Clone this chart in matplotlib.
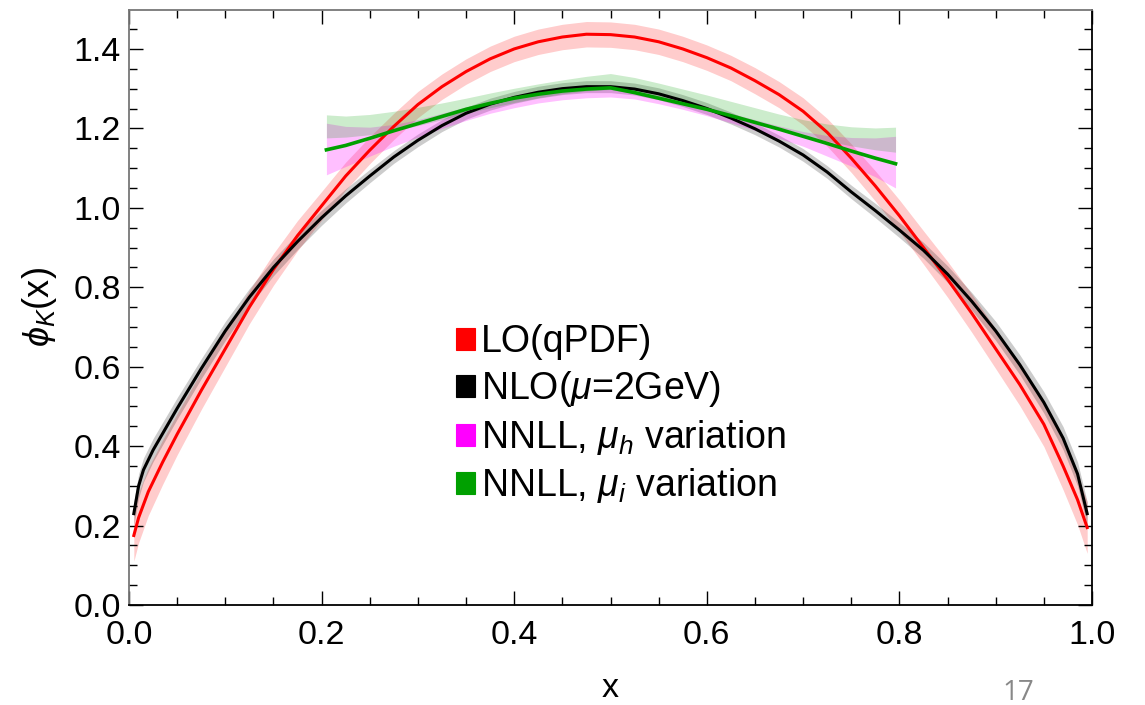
import numpy as np
import matplotlib
matplotlib.use("Agg")
import matplotlib.pyplot as plt
from matplotlib.patches import Patch
from matplotlib.ticker import MultipleLocator

plt.rcParams['font.family'] = ['Liberation Sans', 'DejaVu Sans']
plt.rcParams['mathtext.fontset'] = 'custom'
plt.rcParams['mathtext.rm'] = 'Liberation Sans'
plt.rcParams['mathtext.it'] = 'Liberation Sans:italic'
plt.rcParams['mathtext.fallback'] = 'stixsans'

# LO (qPDF) - red
x_lo = [0.005, 0.01, 0.02, 0.035, 0.05, 0.075, 0.10, 0.125, 0.15, 0.175,
        0.20, 0.225, 0.25, 0.275, 0.30, 0.325, 0.35, 0.375, 0.40, 0.425,
        0.45, 0.475, 0.50, 0.525, 0.55, 0.575, 0.60, 0.625, 0.65, 0.675,
        0.70, 0.725, 0.75, 0.775, 0.80, 0.825, 0.85, 0.875, 0.90, 0.925,
        0.95, 0.97, 0.985, 0.995]
y_lo = [0.175, 0.22, 0.285, 0.36, 0.43, 0.54, 0.645, 0.75, 0.845, 0.93,
        1.005, 1.08, 1.145, 1.205, 1.26, 1.305, 1.343, 1.375, 1.40, 1.418,
        1.43, 1.437, 1.436, 1.43, 1.418, 1.40, 1.378, 1.352, 1.32, 1.285,
        1.243, 1.19, 1.125, 1.055, 0.98, 0.90, 0.82, 0.735, 0.645, 0.555,
        0.455, 0.35, 0.265, 0.195]
e_lo = [0.065, 0.063, 0.06, 0.056, 0.052, 0.048, 0.045, 0.042, 0.04, 0.038,
        0.036, 0.035, 0.034, 0.033, 0.033, 0.032, 0.032, 0.032, 0.032, 0.032,
        0.032, 0.032, 0.032, 0.032, 0.032, 0.032, 0.032, 0.032, 0.033, 0.033,
        0.034, 0.035, 0.036, 0.038, 0.04, 0.042, 0.045, 0.048, 0.05, 0.053,
        0.056, 0.06, 0.063, 0.065]

# NLO (mu=2GeV) - black
x_nlo = [0.005, 0.01, 0.015, 0.025, 0.05, 0.075, 0.10, 0.125, 0.15, 0.175,
         0.20, 0.225, 0.25, 0.275, 0.30, 0.325, 0.35, 0.375, 0.40, 0.425,
         0.45, 0.475, 0.50, 0.525, 0.55, 0.575, 0.60, 0.625, 0.65, 0.675,
         0.70, 0.725, 0.75, 0.775, 0.80, 0.825, 0.85, 0.875, 0.90, 0.925,
         0.95, 0.97, 0.985, 0.995]
y_nlo = [0.23, 0.30, 0.34, 0.39, 0.495, 0.595, 0.69, 0.775, 0.85, 0.915,
         0.975, 1.03, 1.08, 1.128, 1.17, 1.207, 1.238, 1.261, 1.278, 1.291,
         1.300, 1.305, 1.305, 1.299, 1.287, 1.27, 1.25, 1.226, 1.199, 1.168,
         1.133, 1.09, 1.04, 0.993, 0.944, 0.893, 0.833, 0.765, 0.69, 0.605,
         0.51, 0.42, 0.33, 0.23]
e_nlo = [0.03, 0.03, 0.03, 0.029, 0.027, 0.025, 0.024, 0.022, 0.021, 0.02,
         0.019, 0.018, 0.017, 0.016, 0.016, 0.015, 0.015, 0.015, 0.015, 0.015,
         0.015, 0.015, 0.015, 0.015, 0.015, 0.015, 0.015, 0.015, 0.015, 0.015,
         0.016, 0.016, 0.017, 0.018, 0.019, 0.02, 0.021, 0.022, 0.024, 0.025,
         0.027, 0.029, 0.03, 0.03]

# NNLL central line and scale variation bands
x_nnll = [0.205, 0.225, 0.25, 0.275, 0.30, 0.325, 0.35, 0.375, 0.40, 0.425,
          0.45, 0.475, 0.50, 0.525, 0.55, 0.575, 0.60, 0.625, 0.65, 0.675,
          0.70, 0.725, 0.75, 0.775, 0.796]
y_nnll = [1.146, 1.157, 1.175, 1.194, 1.212, 1.230, 1.248, 1.263, 1.276, 1.286,
          1.294, 1.299, 1.302, 1.290, 1.276, 1.262, 1.248, 1.232, 1.215, 1.198,
          1.180, 1.162, 1.143, 1.125, 1.111]
muh_hi = [1.213, 1.205, 1.203, 1.21, 1.222, 1.238, 1.254, 1.268, 1.28, 1.29,
          1.297, 1.301, 1.303, 1.295, 1.282, 1.268, 1.254, 1.238, 1.222, 1.206,
          1.192, 1.182, 1.177, 1.176, 1.18]
muh_lo = [1.083, 1.104, 1.13, 1.155, 1.178, 1.20, 1.22, 1.238, 1.252, 1.264,
          1.272, 1.277, 1.279, 1.274, 1.262, 1.248, 1.232, 1.214, 1.195, 1.175,
          1.155, 1.13, 1.105, 1.078, 1.05]
mui_hi = [1.234, 1.231, 1.235, 1.243, 1.253, 1.264, 1.276, 1.289, 1.301, 1.312,
          1.322, 1.331, 1.338, 1.328, 1.314, 1.299, 1.284, 1.268, 1.252, 1.236,
          1.222, 1.211, 1.204, 1.201, 1.203]
mui_lo = [1.176, 1.178, 1.184, 1.194, 1.207, 1.222, 1.238, 1.252, 1.265, 1.277,
          1.287, 1.294, 1.298, 1.288, 1.275, 1.26, 1.245, 1.23, 1.214, 1.198,
          1.182, 1.168, 1.156, 1.146, 1.14]

labels = ["LO(qPDF)", r"NLO($\mu$=2GeV)", r"NNLL, $\mu_h$ variation", r"NNLL, $\mu_i$ variation"]
RED = "#ff0000"
MAG = "#ff00ff"
GRN = "#00a000"

fig = plt.figure(figsize=(11.45, 7.05), dpi=100)
ax = fig.add_axes([129 / 1145, 1 - 605 / 705, 963 / 1145, 595 / 705])

x_lo, y_lo, e_lo = map(np.array, (x_lo, y_lo, e_lo))
x_nlo, y_nlo, e_nlo = map(np.array, (x_nlo, y_nlo, e_nlo))

ax.fill_between(x_lo, y_lo - e_lo, y_lo + e_lo, color=RED, alpha=0.2, lw=0)
ax.plot(x_lo, y_lo, color=RED, lw=2.2)
ax.fill_between(x_nlo, y_nlo - e_nlo, y_nlo + e_nlo, color="black", alpha=0.2, lw=0)
ax.plot(x_nlo, y_nlo, color="black", lw=2.2)
ax.fill_between(x_nnll, muh_lo, muh_hi, color=MAG, alpha=0.25, lw=0)
ax.fill_between(x_nnll, mui_lo, mui_hi, color=GRN, alpha=0.2, lw=0)
ax.plot(x_nnll, y_nnll, color=GRN, lw=2.6)

ax.set_xlim(0, 1)
ax.set_ylim(0, 1.498)
ax.xaxis.set_major_locator(MultipleLocator(0.2))
ax.xaxis.set_minor_locator(MultipleLocator(0.05))
ax.yaxis.set_major_locator(MultipleLocator(0.2))
ax.yaxis.set_minor_locator(MultipleLocator(0.05))
ax.xaxis.set_major_formatter(plt.FuncFormatter(lambda v, p: "%.1f" % v))
ax.yaxis.set_major_formatter(plt.FuncFormatter(lambda v, p: "%.1f" % v))
ax.tick_params(which="both", direction="in", top=True, right=True, labelsize=24.5)
ax.tick_params(axis="x", which="both", pad=11)
ax.tick_params(axis="y", which="both", pad=6)
ax.tick_params(which="major", length=10, width=1)
ax.tick_params(which="minor", length=6, width=1)
for s in ("left", "top"):
    ax.spines[s].set_color("#777777")
for s in ("bottom", "right"):
    ax.spines[s].set_color("black")
for s in ax.spines.values():
    s.set_linewidth(1.3)

ax.set_ylabel(r"$\phi_K$(x)", fontsize=26, labelpad=10)
fig.text(610 / 1145, 1 - 697 / 705, "x", fontsize=24.5, ha="center", va="baseline")
fig.text(1018 / 1145, 1 - 700 / 705, "17", fontsize=20, color="#888888",
         ha="center", va="baseline", family=["Open Sans", "DejaVu Sans"])

handles = [Patch(facecolor=c, edgecolor=c, lw=0.8) for c in (RED, "black", MAG, GRN)]
ax.legend(handles, labels, loc="upper left", bbox_to_anchor=(0.34, 0.472),
          frameon=False, fontsize=27, handlelength=0.5, handleheight=0.5,
          handletextpad=0.15, labelspacing=0.24, borderpad=0, borderaxespad=0)

fig.savefig("out.png", dpi=100)
